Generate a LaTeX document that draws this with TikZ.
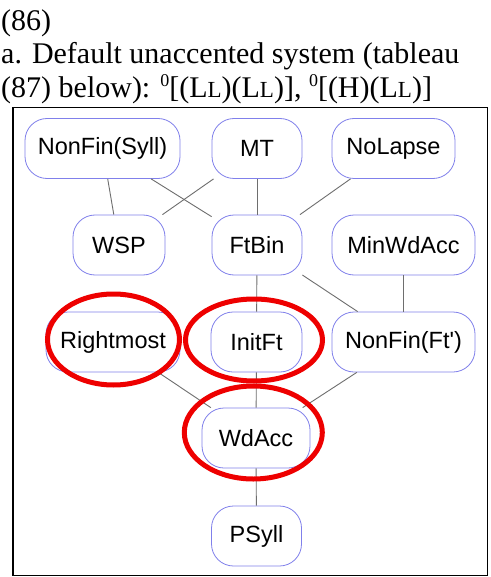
\documentclass[tikz,border=0pt]{standalone}
\usepackage{fontspec}
\setmainfont{Liberation Serif}
\newfontfamily\diagsans{Liberation Sans}
\usetikzlibrary{calc}
\definecolor{boxline}{RGB}{128,128,235}
\definecolor{linkgray}{RGB}{110,110,110}
\definecolor{ringred}{RGB}{238,0,0}
% small-capital L and raised zero used in the heading
\newcommand{\scL}{{\fontsize{23}{23}\selectfont L}}
\newcommand{\supz}{\raisebox{11pt}{\fontsize{18}{18}\selectfont 0}}
\begin{document}
\begin{tikzpicture}[x=1pt,y=-1pt,
  heading/.style={anchor=base west,inner sep=0pt,font=\fontsize{30}{34}\selectfont},
  cbox/.style={draw=boxline,line width=0.8pt,rounded corners=22pt,fill=white,
    minimum height=60pt,inner sep=0pt,text=black,
    font=\diagsans\fontsize{23.5}{26}\selectfont},
  link/.style={draw=linkgray,line width=0.9pt},
  ring/.style={draw=ringred,line width=5pt}]
\useasboundingbox[fill=white] (0,0) rectangle (490,577);

% heading
\node[heading] (h1) at (1,31) {(86)};
\node[heading] (h2) at (1,64) {a. Default unaccented system (tableau};
\node[heading] (h3) at (1,98) {(87) below): \supz[(L\scL)(L\scL)], \supz[(H)(L\scL)]};

% frame
\draw[line width=1.6pt] (13,107.5) rectangle (487.5,575.5);

% constraint boxes
\node[cbox,minimum width=155pt] (nfs) at (102.5,148.5) {NonFin(Syll)};
\node[cbox,minimum width=90pt]  (mt)  at (257,148.5) {MT};
\node[cbox,minimum width=123pt] (nol) at (393.5,148.5) {NoLapse};
\node[cbox,minimum width=92pt]  (wsp) at (119,245) {WSP};
\node[cbox,minimum width=90pt]  (ftb) at (257,245) {FtBin};
\node[cbox,minimum width=143pt] (mwa) at (403.5,245) {MinWdAcc};
\node[cbox,minimum width=134pt] (rm)  at (113,342) {Rightmost};
\node[cbox,minimum width=91pt]  (ift) at (256.5,342) {InitFt};
\node[cbox,minimum width=143pt] (nff) at (403.5,342) {NonFin(Ft')};
\node[cbox,minimum width=108pt] (wda) at (256,438) {WdAcc};
\node[cbox,minimum width=90pt]  (psy) at (256.5,536) {PSyll};

% ranking links
\draw[link] (nfs) -- (wsp);
\draw[link] (nfs) -- (ftb);
\draw[link] (mt) -- (wsp);
\draw[link] (mt) -- (ftb);
\draw[link] (nol) -- (ftb);
\draw[link] (ftb) -- (ift);
\draw[link] (ftb) -- (nff);
\draw[link] (mwa.south) -- (nff.north);
\draw[link] (rm) -- (wda);
\draw[link] (ift) -- (wda);
\draw[link] (nff) -- (wda);
\draw[link] (wda) -- (psy);

% highlighted constraints
\draw[ring] ($(rm)+(0.5,-2.5)$) ellipse (66 and 45.5);
\draw[ring] ($(ift)+(-2.5,-2)$) ellipse (68.5 and 41);
\draw[ring] ($(wda)+(-2.7,-5.5)$) ellipse (69 and 46.5);
\end{tikzpicture}
\end{document}
